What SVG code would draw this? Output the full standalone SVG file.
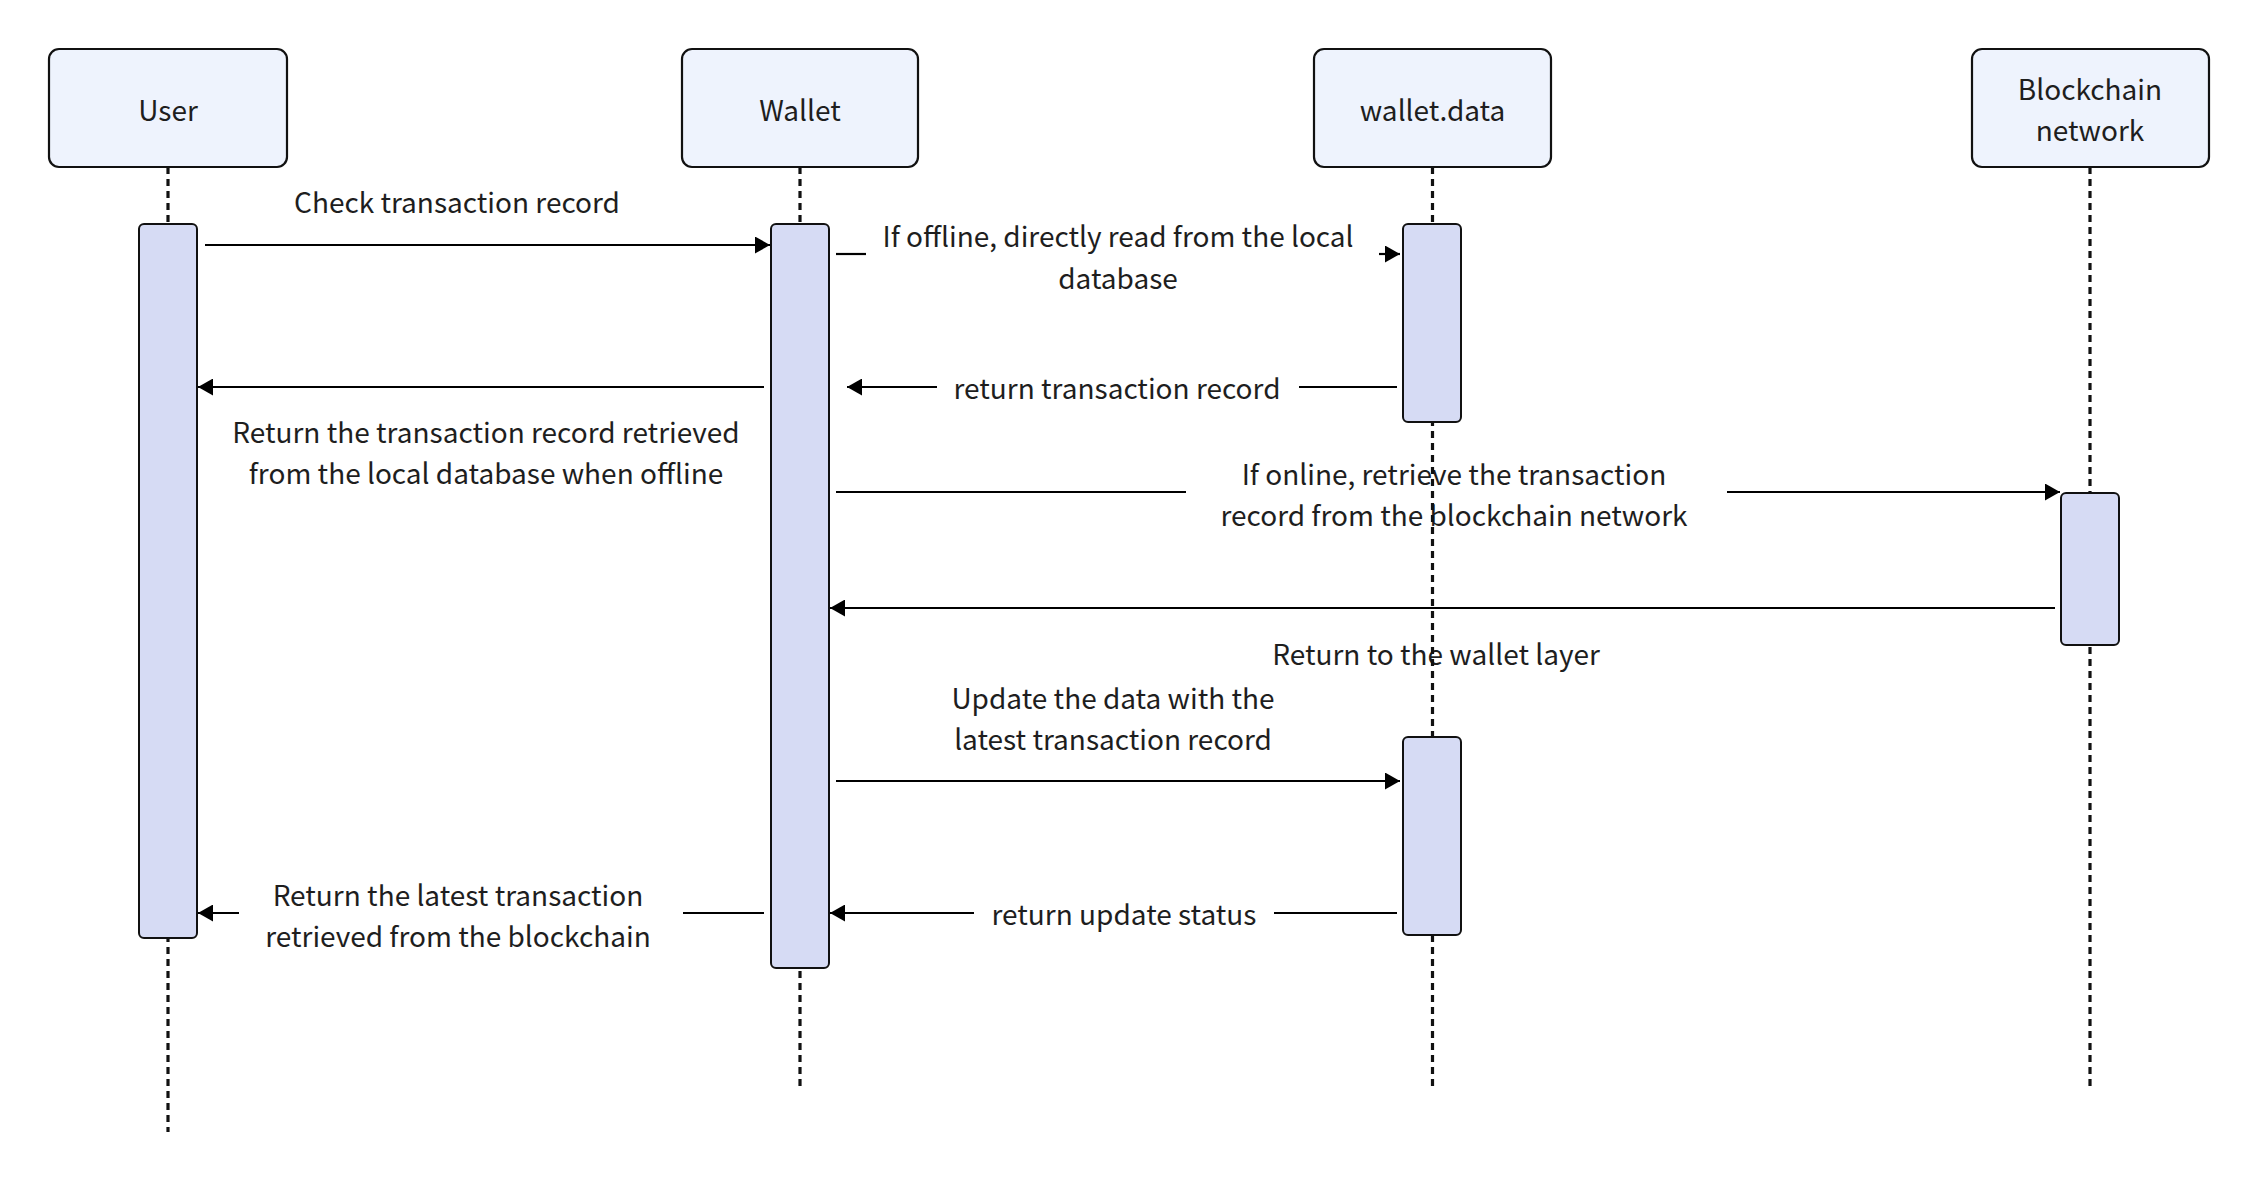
<svg xmlns="http://www.w3.org/2000/svg" width="2260" height="1182" viewBox="0 0 2260 1182">
<defs>
<marker id="ah" markerUnits="userSpaceOnUse" markerWidth="16" markerHeight="17" refX="15" refY="8.5" orient="auto">
<path d="M0,0 L15,8.5 L0,17 Z" fill="#000"/>
</marker>
<style>
.box{fill:#eef3fd;stroke:#111;stroke-width:2.2}
.act{fill:#d6dbf4;stroke:#111;stroke-width:2}
.life{stroke:#111;stroke-width:3.2;stroke-dasharray:7 5;fill:none}
.msg{stroke:#000;stroke-width:2.2;fill:none}
.arr{marker-end:url(#ah)}
text{font-family:"Noto Sans CJK SC","Source Sans Pro","Noto Sans",sans-serif;font-size:28px;fill:#1e1e1e;text-anchor:middle}
</style>
</defs>
<rect width="2260" height="1182" fill="#fff"/>
<g id="labels">
<text x="457" y="213">Check transaction record</text>
<text x="1118" y="247">If offline, directly read from the local</text>
<text x="1118" y="289">database</text>
<text x="1117" y="399">return transaction record</text>
<text x="486" y="443">Return the transaction record retrieved</text>
<text x="486" y="484">from the local database when offline</text>
<text x="1454" y="485">If online, retrieve the transaction</text>
<text x="1454" y="526">record from the blockchain network</text>
<text x="1436" y="665">Return to the wallet layer</text>
<text x="1113" y="709">Update the data with the</text>
<text x="1113" y="750">latest transaction record</text>
<text x="1124" y="925" fill="#333">return update status</text>
<text x="458" y="906">Return the latest transaction</text>
<text x="458" y="947">retrieved from the blockchain</text>
</g>
<g id="lifelines">
<line class="life" x1="168" y1="167" x2="168" y2="1132"/>
<line class="life" x1="800" y1="167" x2="800" y2="1086"/>
<line class="life" x1="1432.5" y1="167" x2="1432.5" y2="1086"/>
<line class="life" x1="2090" y1="167" x2="2090" y2="1086"/>
</g>
<g id="user">
<rect class="box" x="49" y="49" width="238" height="118" rx="10"/>
<text x="168" y="121">User</text>
<rect class="act" x="139" y="224" width="58" height="714" rx="5"/>
</g>
<g id="wallet">
<rect class="box" x="682" y="49" width="236" height="118" rx="10"/>
<text x="800" y="121">Wallet</text>
<rect class="act" x="771" y="224" width="58" height="744" rx="5"/>
</g>
<g id="walletdata">
<rect class="box" x="1314" y="49" width="237" height="118" rx="10"/>
<text x="1432.5" y="121">wallet.data</text>
<rect class="act" x="1403" y="224" width="58" height="198" rx="5"/>
<rect class="act" x="1403" y="737" width="58" height="198" rx="5"/>
</g>
<g id="blockchain">
<rect class="box" x="1972" y="49" width="237" height="118" rx="10"/>
<text x="2090" y="100">Blockchain</text>
<text x="2090" y="141">network</text>
<rect class="act" x="2061" y="493" width="58" height="152" rx="5"/>
</g>
<g id="connectors">
<line class="msg arr" x1="205" y1="245" x2="770" y2="245"/>
<line class="msg" x1="836" y1="254" x2="866" y2="254"/>
<line class="msg arr" x1="1379" y1="254" x2="1400" y2="254"/>
<line class="msg" x1="1397" y1="387" x2="1299" y2="387"/>
<line class="msg arr" x1="937" y1="387" x2="847" y2="387"/>
<line class="msg arr" x1="764" y1="387" x2="198" y2="387"/>
<line class="msg" x1="836" y1="492" x2="1186" y2="492"/>
<line class="msg arr" x1="1727" y1="492" x2="2060" y2="492"/>
<line class="msg arr" x1="2055" y1="608" x2="830" y2="608"/>
<line class="msg arr" x1="836" y1="781" x2="1400" y2="781"/>
<line class="msg" x1="1397" y1="913" x2="1274" y2="913"/>
<line class="msg arr" x1="974" y1="913" x2="830" y2="913"/>
<line class="msg" x1="764" y1="913" x2="683" y2="913"/>
<line class="msg arr" x1="239" y1="913" x2="198" y2="913"/>
</g>
</svg>
